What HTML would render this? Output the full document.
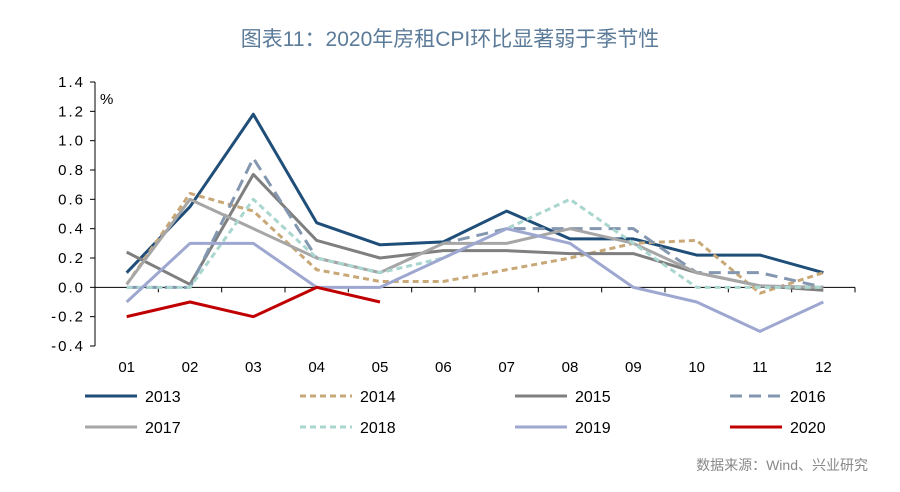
<!DOCTYPE html>
<html><head><meta charset="utf-8"><style>
body{margin:0;background:#fff;width:900px;height:487px;overflow:hidden;font-family:"Liberation Sans","Noto Sans CJK SC",sans-serif}
</style></head><body>
<svg width="900" height="487" id="svg" font-family="Liberation Sans, Noto Sans CJK SC, sans-serif">
<text x="450" y="46" text-anchor="middle" font-size="21" fill="#5b7b99">图表11：2020年房租CPI环比显著弱于季节性</text>
<text x="100" y="104" font-size="15" fill="#000">%</text>
<text x="868" y="470" text-anchor="end" font-size="14" fill="#888">数据来源：Wind、兴业研究</text>
</svg>
<script>
const categories=["01","02","03","04","05","06","07","08","09","10","11","12"];
const yTicks=[1.4,1.2,1.0,0.8,0.6,0.4,0.2,0.0,-0.2,-0.4];
const s2013=[0.1,0.55,1.18,0.44,0.29,0.31,0.52,0.33,0.33,0.22,0.22,0.1];
const s2014=[0.02,0.64,0.52,0.12,0.04,0.04,0.12,0.2,0.3,0.32,-0.04,0.1];
const s2015=[0.24,0.02,0.77,0.32,0.2,0.25,0.25,0.23,0.23,0.1,0.01,-0.02];
const s2016=[0,0,0.88,0.2,0.1,0.3,0.4,0.4,0.4,0.1,0.1,0];
const s2017=[0.02,0.6,0.4,0.2,0.1,0.3,0.3,0.4,0.3,0.1,0.01,0];
const s2018=[0,0,0.6,0.2,0.1,0.2,0.4,0.6,0.3,0,0,0];
const s2019=[-0.1,0.3,0.3,0,0,0.2,0.4,0.3,0,-0.1,-0.3,-0.1];
const s2020=[-0.2,-0.1,-0.2,0,-0.1];
const seriesNames=["2013","2014","2015","2016","2017","2018","2019","2020"];
const series=[s2013,s2014,s2015,s2016,s2017,s2018,s2019,s2020];
const styles=[["#1f4e79",""],["#c9a878","6,4"],["#7f7f7f",""],["#8497b0","12,7"],["#a6a6a6",""],["#a9d6cf","6,4"],["#9da7d0",""],["#c00000",""]];
const svg=document.getElementById('svg');const NS="http://www.w3.org/2000/svg";
function mk(t,a,p){const e=document.createElementNS(NS,t);for(const k in a)e.setAttribute(k,a[k]);(p||svg).appendChild(e);return e;}
const X0=95,X1=855,Y0=82,Y1=346;
function y(v){return Y0+(1.4-v)/1.8*(Y1-Y0);}
function x(i){return X0+(X1-X0)/12*(i+0.5);}
let e=mk('line',{x1:X0,x2:X0,y1:Y0,y2:Y1,stroke:"#000"});


yTicks.forEach(v=>{mk('line',{x1:X0-5,x2:X0,y1:y(v),y2:y(v),stroke:"#000"});
const t=mk('text',{x:X0-10,y:y(v)+5,"text-anchor":"end","font-size":15,fill:"#000"});t.textContent=v.toFixed(1).replace('-','-').split('').join(' ').replace(/ \. /,' . ');
t.textContent=v.toFixed(1);t.setAttribute('letter-spacing','2');

});
e=mk('line',{x1:X0,x2:X1,y1:y(0),y2:y(0),stroke:"#000"});


for(let i=0;i<=12;i++){const xx=X0+(X1-X0)/12*i;mk('line',{x1:xx,x2:xx,y1:y(0),y2:y(0)+5,stroke:"#000"});}
categories.forEach((c,i)=>{const t=mk('text',{x:x(i),y:372,"text-anchor":"middle","font-size":15,fill:"#000"});t.textContent=c;

});
series.forEach((s,k)=>{const p=mk('polyline',{points:s.map((v,i)=>x(i)+","+y(v)).join(" "),fill:"none",stroke:styles[k][0],"stroke-width":3,"stroke-dasharray":styles[k][1]||"none","stroke-linejoin":"round"});


const col=k%4,row=Math.floor(k/4);const lx=85+col*215,ly=396+row*31;
const g=mk('g',{});


mk('line',{x1:lx,x2:lx+52,y1:ly,y2:ly,stroke:styles[k][0],"stroke-width":3,"stroke-dasharray":styles[k][1]||"none"},g);
const t=mk('text',{x:lx+60,y:ly+6,"font-size":16,fill:"#000"},g);t.textContent=seriesNames[k];});
</script>
</body></html>
